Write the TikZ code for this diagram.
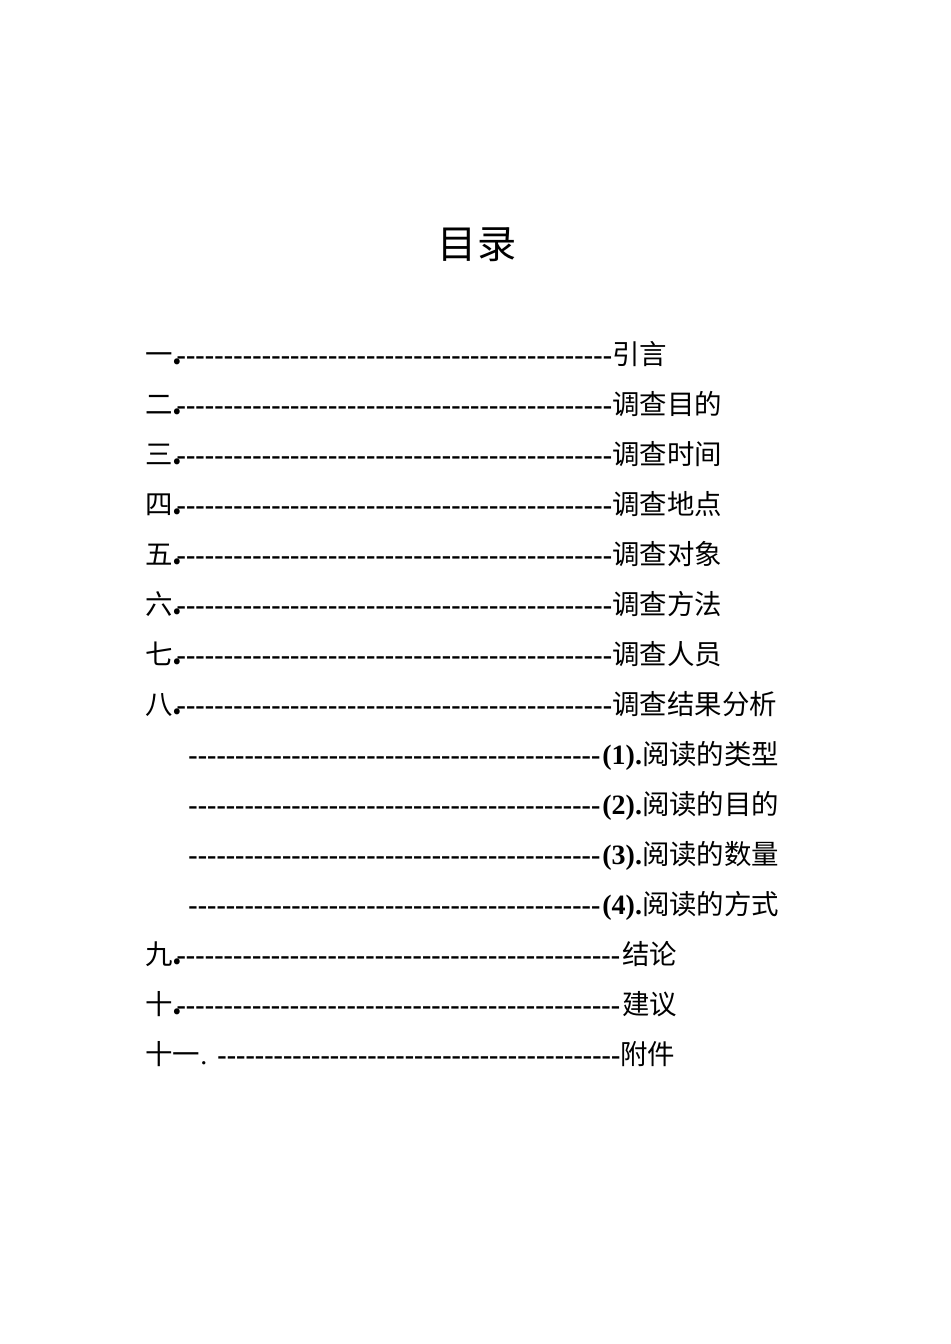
\documentclass[tikz,border=0pt]{standalone}
\usepackage{fontspec}
\setmainfont{Liberation Serif}
\newfontfamily\cjk{Noto Sans CJK SC}[Scale=0.98]
\begin{document}
\begin{tikzpicture}[x=0.5pt,y=-0.5pt,
  lbl/.style={anchor=base west,inner sep=0,font=\fontsize{14pt}{16pt}\selectfont},
  dsh/.style={anchor=base west,inner sep=0,font=\fontsize{14pt}{16pt}\selectfont\bfseries}]
\useasboundingbox[fill=white] (0,0) rectangle (950,1344);
\node[anchor=base,inner sep=0,font=\fontsize{20pt}{22pt}\selectfont\cjk] (title) at (477,258) {目录};
\newcommand{\tocrow}[7]{% name, y, label, dash start, dash end, title x, title
  \node[lbl] (#1l) at (145,#2) {#3};
  \pgfmathsetmacro{\dw}{(#5-#4)*0.5}
  \node[dsh] (#1d) at (#4,#2) {\hbox to \dw pt{\xleaders\hbox{-}\hfill}};
  \node[lbl] (#1t) at (#6,#2) {#7};}
\tocrow{a}{364}{\cjk 一\textbf{.}}{176}{612}{612}{\cjk 引言}
\tocrow{b}{414}{\cjk 二\textbf{.}}{176}{612}{612}{\cjk 调查目的}
\tocrow{c}{464}{\cjk 三\textbf{.}}{176}{612}{612}{\cjk 调查时间}
\tocrow{d}{514}{\cjk 四\textbf{.}}{176}{612}{612}{\cjk 调查地点}
\tocrow{e}{564}{\cjk 五\textbf{.}}{176}{612}{612}{\cjk 调查对象}
\tocrow{f}{614}{\cjk 六\textbf{.}}{176}{612}{612}{\cjk 调查方法}
\tocrow{g}{664}{\cjk 七\textbf{.}}{176}{612}{612}{\cjk 调查人员}
\tocrow{h}{714}{\cjk 八\textbf{.}}{176}{612}{612}{\cjk 调查结果分析}
\tocrow{i}{764}{}{188}{600}{602}{\textbf{(1).}\cjk 阅读的类型}
\tocrow{j}{814}{}{188}{600}{602}{\textbf{(2).}\cjk 阅读的目的}
\tocrow{k}{864}{}{188}{600}{602}{\textbf{(3).}\cjk 阅读的数量}
\tocrow{l}{914}{}{188}{600}{602}{\textbf{(4).}\cjk 阅读的方式}
\tocrow{m}{964}{\cjk 九\textbf{.}}{176}{620}{622}{\cjk 结论}
\tocrow{n}{1014}{\cjk 十\textbf{.}}{176}{620}{622}{\cjk 建议}
\tocrow{o}{1064}{{\cjk 十一}. }{217}{620}{620}{\cjk 附件}
\end{tikzpicture}
\end{document}
